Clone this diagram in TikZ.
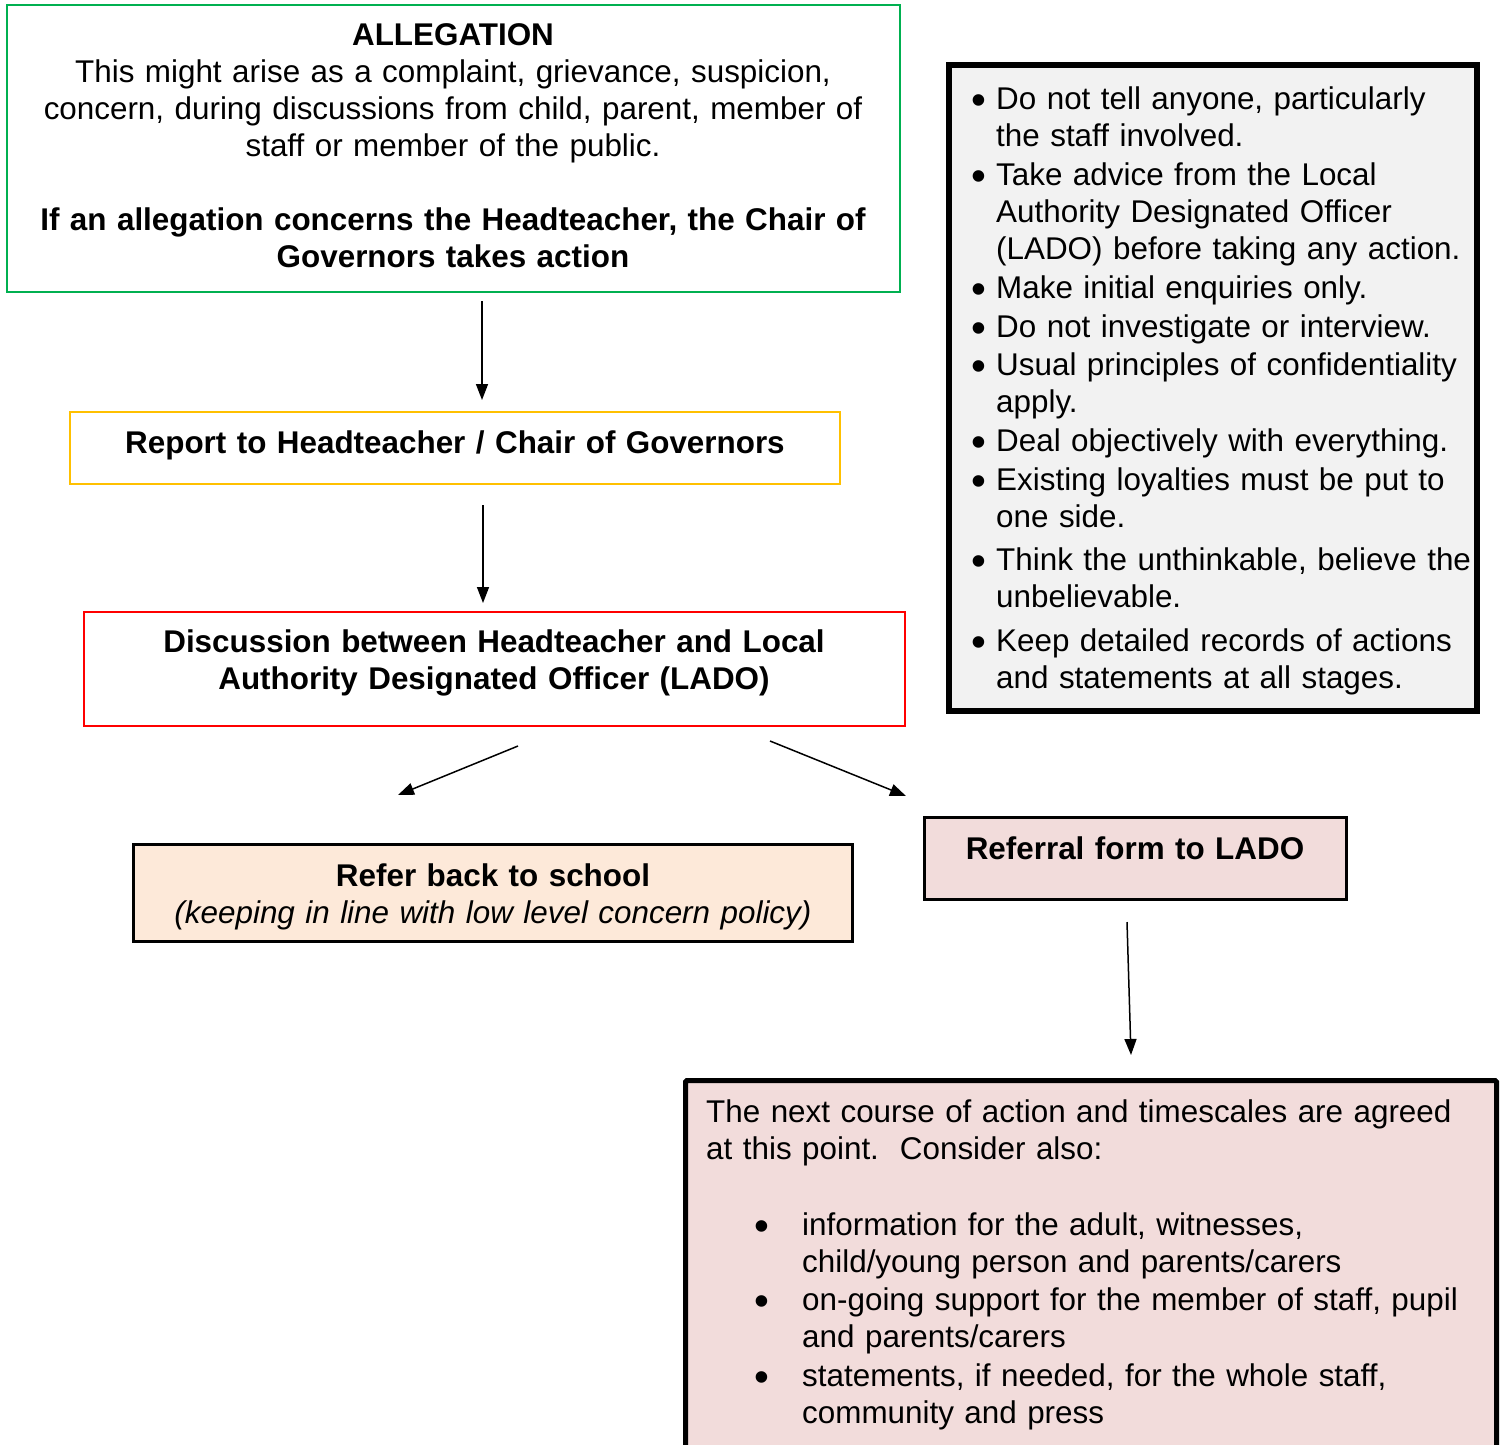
\documentclass[tikz,border=0pt]{standalone}
\usepackage{fontspec}
\setmainfont{Liberation Sans}
\usetikzlibrary{arrows.meta}
\definecolor{alleggreen}{HTML}{00B050}
\definecolor{reportgold}{HTML}{FFC000}
\definecolor{ladored}{HTML}{FF0000}
\definecolor{peach}{HTML}{FDE9D9}
\definecolor{rose}{HTML}{F2DCDB}
\definecolor{notegray}{HTML}{F2F2F2}
\newcommand{\bigdot}{\smash{\raisebox{-5pt}{\scalebox{1.35}{\textbullet}}}}
\newcommand{\nbul}{\makebox[25pt][l]{\bigdot}}
\newcommand{\nind}{\hspace*{25pt}}
\newcommand{\xbul}{\hspace*{48pt}\makebox[48pt][l]{\bigdot}}
\newcommand{\xind}{\hspace*{96pt}}
\tikzset{%
  >={Triangle[width=12pt,length=16pt]},
  % Specifications for style of boxes:
          base/.style = {rectangle, draw=black, inner sep=0pt},
    allegation/.style = {base, draw=alleggreen, line width=2.5pt},
     reportbox/.style = {base, draw=reportgold, line width=2.5pt},
    discussbox/.style = {base, draw=ladored, line width=2.5pt},
     referback/.style = {base, fill=peach, line width=3pt},
      referral/.style = {base, fill=rose, line width=3pt},
      notesbox/.style = {base, fill=notegray, line width=6pt},
       nextbox/.style = {base, fill=rose, line width=5pt, rounded corners=1.5pt},
  % Specifications for style of texts:
       midtext/.style = {inner sep=0pt, anchor=base, text width=1000pt,
                         align=center},
      lefttext/.style = {inner sep=0pt, anchor=base west, text width=800pt,
                         align=left},
}
\begin{document}
\begin{tikzpicture}[x=1pt, y=-1pt,
    every node/.style={font=\fontsize{31.4}{37}\selectfont}]
  \useasboundingbox (0,0) rectangle (1501,1444);
  % Boxes
  \node (alleg)     [allegation, minimum width=893pt, minimum height=287pt]
        at (453.5,148.5) {};
  \node (report)    [reportbox, minimum width=770pt, minimum height=72pt]
        at (455,448) {};
  \node (discuss)   [discussbox, minimum width=821pt, minimum height=114pt]
        at (494.5,669) {};
  \node (school)    [referback, minimum width=719pt, minimum height=97pt]
        at (492.5,892.5) {};
  \node (lado)      [referral, minimum width=422pt, minimum height=82pt]
        at (1135,858) {};
  \node (notes)     [notesbox, minimum width=528pt, minimum height=646pt]
        at (1213,388) {};
  \node (next)      [nextbox, anchor=north west, minimum width=811pt,
        minimum height=430pt] at (683,1078) {};

  % Texts
  \node (allegtext) [midtext] at (453,45) {\textbf{ALLEGATION}\\
    This might arise as a complaint, grievance, suspicion,\\
    concern, during discussions from child, parent, member of\\
    staff or member of the public.\\[37pt]
    \textbf{If an allegation concerns the Headteacher, the Chair of}\\
    \textbf{Governors takes action}};
  \node (reporttext) [midtext] at (455,453)
        {\textbf{Report to Headteacher / Chair of Governors}};
  \node (discusstext) [midtext] at (494,652)
        {\textbf{Discussion between Headteacher and Local}\\
         \textbf{Authority Designated Officer (LADO)}};
  \node (schooltext) [midtext] at (493,886) {\textbf{Refer back to school}\\
        \textit{(keeping in line with low level concern policy)}};
  \node (ladotext)  [midtext] at (1135,859) {\textbf{Referral form to LADO}};
  \node (notestext) [lefttext] at (971,109) {%
    \nbul Do not tell anyone, particularly\\
    \nind the staff involved.\\[2pt]
    \nbul Take advice from the Local\\
    \nind Authority Designated Officer\\
    \nind (LADO) before taking any action.\\[2pt]
    \nbul Make initial enquiries only.\\[2pt]
    \nbul Do not investigate or interview.\\[1pt]
    \nbul Usual principles of confidentiality\\
    \nind apply.\\[2pt]
    \nbul Deal objectively with everything.\\[2pt]
    \nbul Existing loyalties must be put to\\
    \nind one side.\\[6pt]
    \nbul Think the unthinkable, believe the\\
    \nind unbelievable.\\[7pt]
    \nbul Keep detailed records of actions\\
    \nind and statements at all stages.};
  \node (nexttext)  [lefttext] at (706,1122) {%
    The next course of action and timescales are agreed\\
    at this point.\ \ Consider also:\\[39pt]
    \xbul information for the adult, witnesses,\\
    \xind child/young person and parents/carers\\[1pt]
    \xbul on-going support for the member of staff, pupil\\
    \xind and parents/carers\\[2pt]
    \xbul statements, if needed, for the whole staff,\\
    \xind community and press};

  % Arrow ends
  \coordinate (a1s) at (482,301);
  \coordinate (a1e) at (482,400);
  \coordinate (a2s) at (483,505);
  \coordinate (a2e) at (483,603);
  \coordinate (a3s) at (518,746);
  \coordinate (a3e) at (398,795);
  \coordinate (a4s) at (770,741);
  \coordinate (a4e) at (906,796);
  \coordinate (a5s) at (1127,922);
  \coordinate (a5e) at (1131,1055);

  \draw[->, line width=1.5pt] (a1s) -- (a1e);
  \draw[->, line width=1.5pt] (a2s) -- (a2e);
  \draw[->, line width=1.5pt] (a3s) -- (a3e);
  \draw[->, line width=1.5pt] (a4s) -- (a4e);
  \draw[->, line width=1.5pt] (a5s) -- (a5e);
\end{tikzpicture}
\end{document}
